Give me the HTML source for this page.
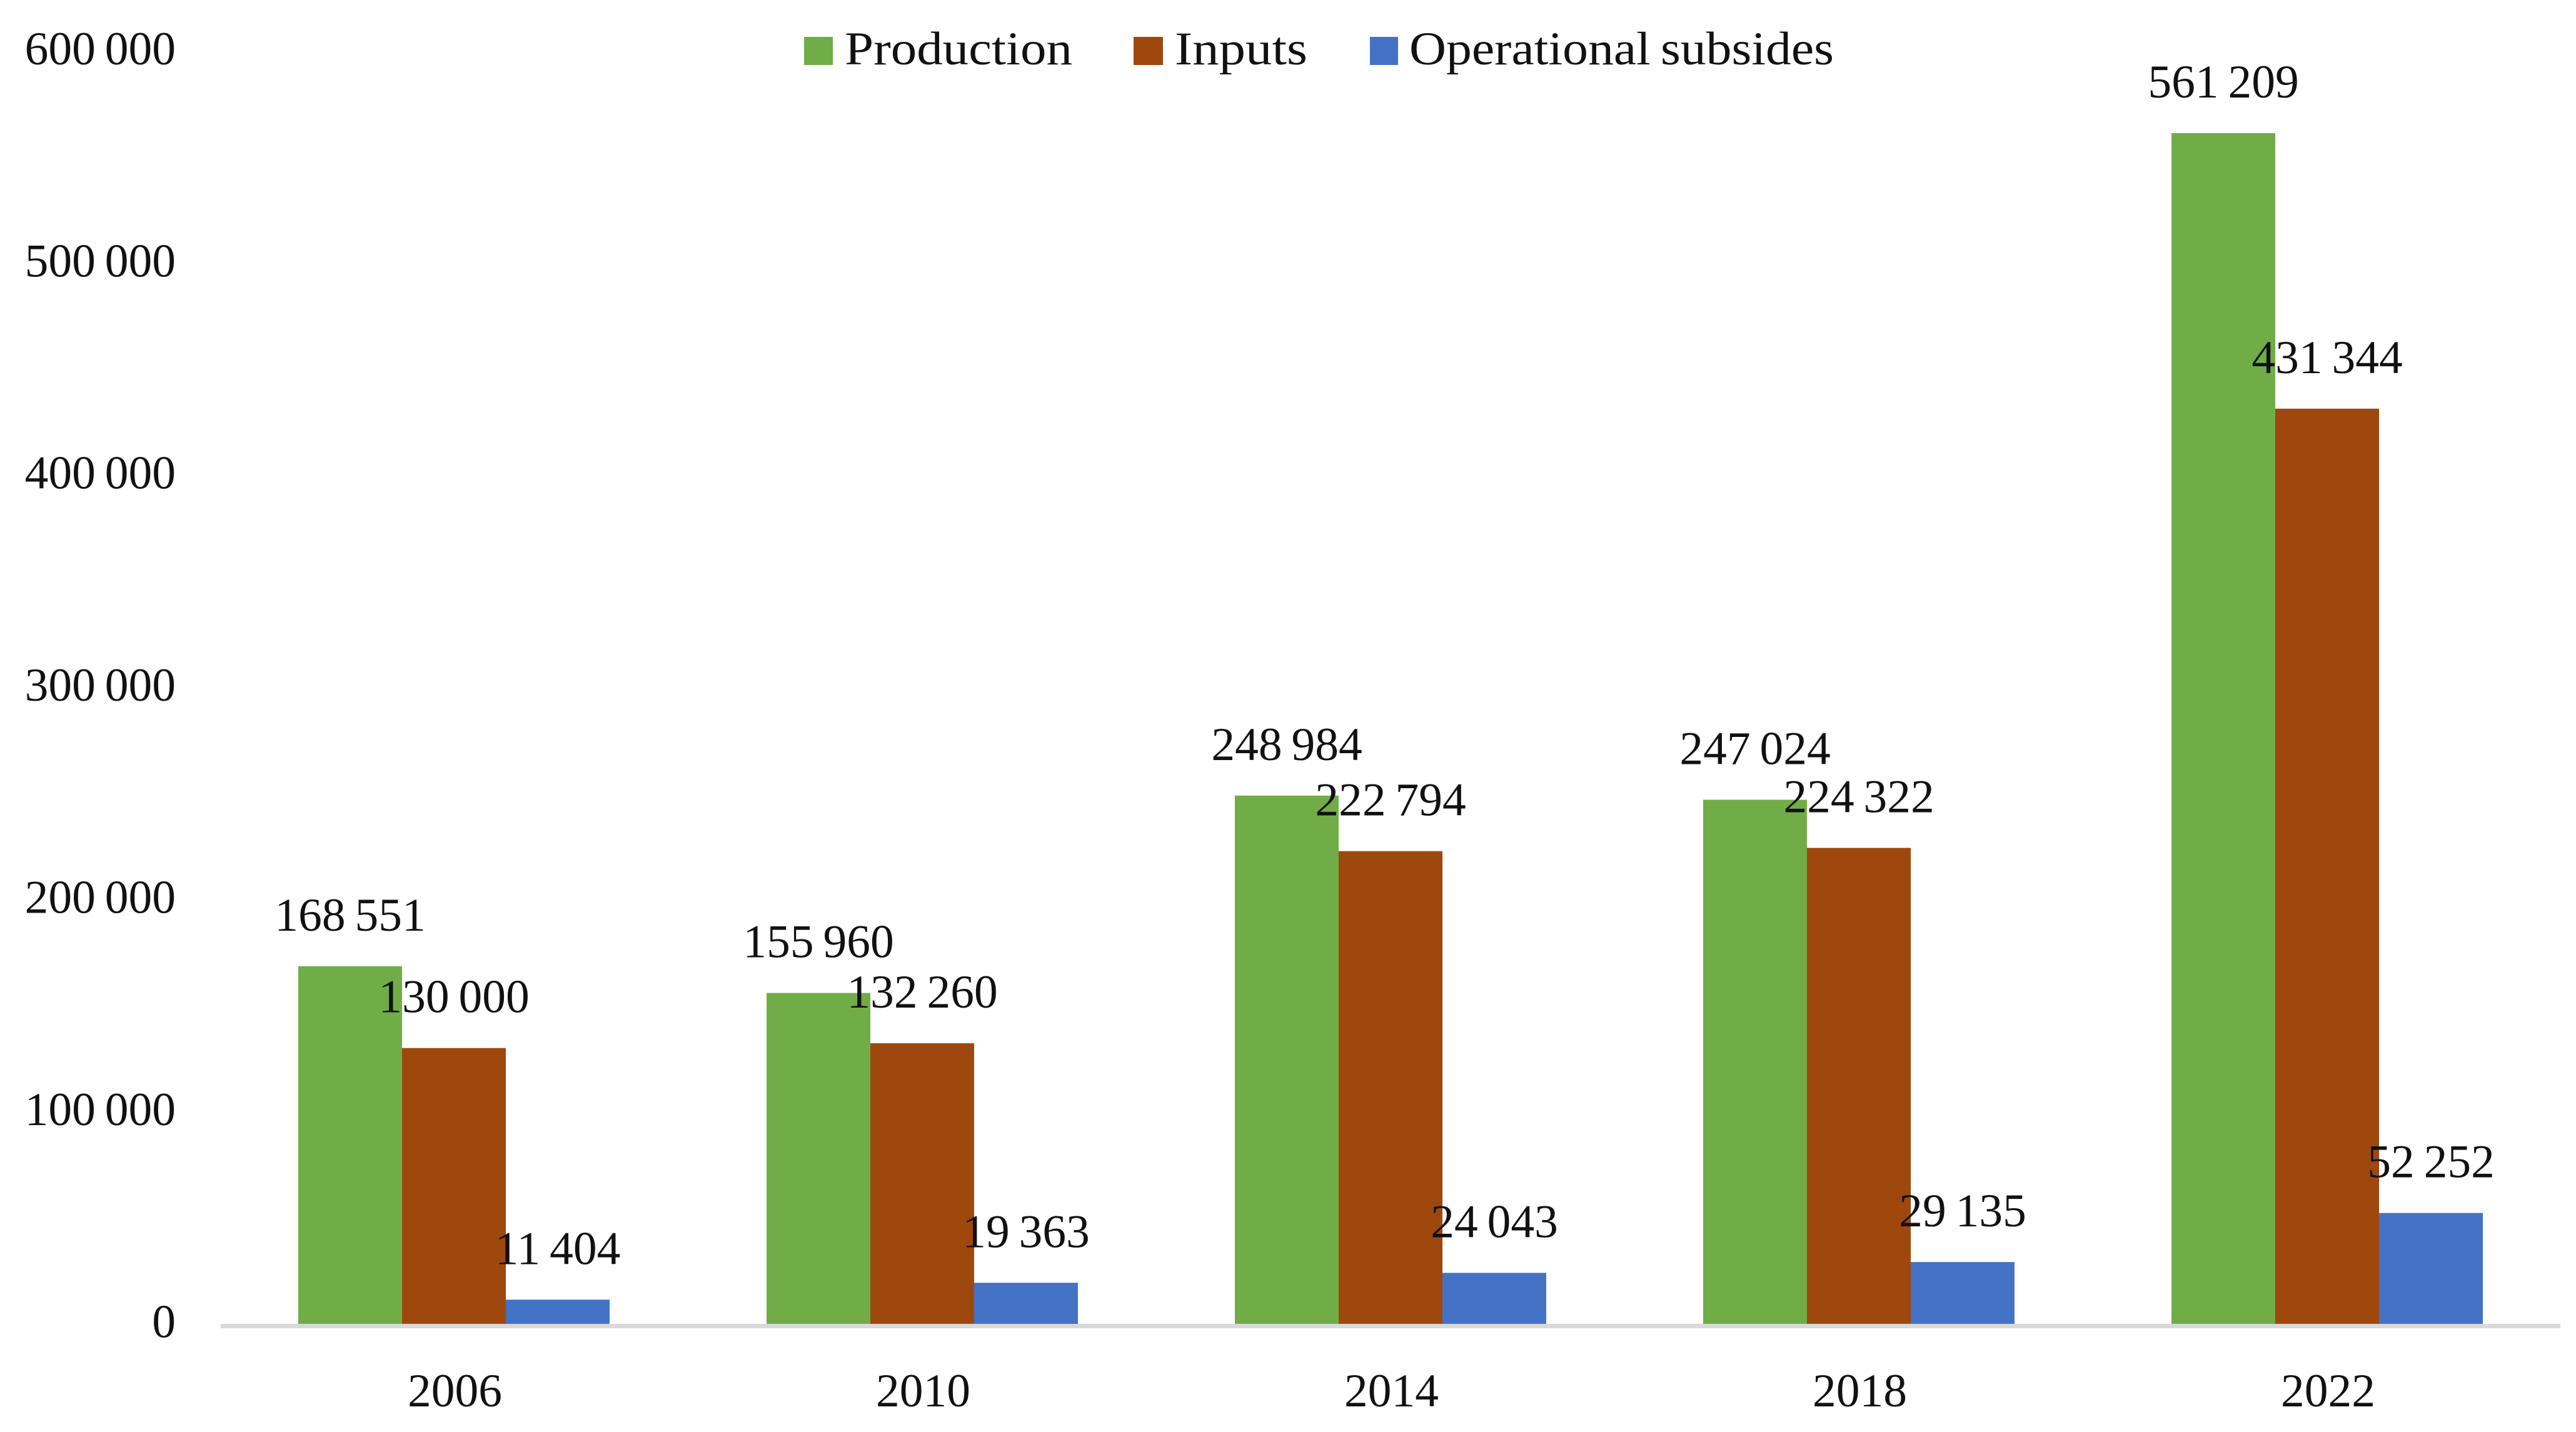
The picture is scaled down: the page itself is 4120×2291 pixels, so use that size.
<!DOCTYPE html>
<html lang="en">
<head>
<meta charset="utf-8">
<title>Production, inputs and operational subsidies</title>
<style>
html,body{margin:0;padding:0;background:#fff;}
svg{display:block;}
text{font-family:"Liberation Serif",serif;font-size:75.5px;word-spacing:-4px;fill:#111;}
</style>
</head>
<body>
<svg id="chart" xmlns="http://www.w3.org/2000/svg" width="4120" height="2291" viewBox="0 0 4120 2291">
  <rect x="0" y="0" width="4120" height="2291" fill="#ffffff"/>
  <g id="y-axis"></g>
  <g id="bars"></g>
  <rect x="353" y="2118" width="3742" height="7" fill="#d9d9d9"/>
  <g id="x-axis"></g>
  <g id="labels"></g>
  <g>
    <rect x="1286" y="59" width="46" height="45" fill="#70AD47"/>
    <text x="1351" y="103" textLength="364" lengthAdjust="spacingAndGlyphs">Production</text>
    <rect x="1813" y="59" width="47" height="45" fill="#9E480E"/>
    <text x="1879" y="103" textLength="212" lengthAdjust="spacingAndGlyphs">Inputs</text>
    <rect x="2191" y="59" width="45" height="45" fill="#4472C4"/>
    <text x="2254" y="103" textLength="679" lengthAdjust="spacingAndGlyphs">Operational subsides</text>
  </g>
</svg>
<script>
const categories = ["2006", "2010", "2014", "2018", "2022"];
const production = [168551, 155960, 248984, 247024, 561209];
const inputs = [130000, 132260, 222794, 224322, 431344];
const operationalSubsides = [11404, 19363, 24043, 29135, 52252];
const yTicks = [0, 100000, 200000, 300000, 400000, 500000, 600000];

const NS = "http://www.w3.org/2000/svg";
const firstCenter = 726, step = 749, baseY = 2118, pxPerUnit = 0.0033945, barW = 166;
const seriesList = [
  {key: "production", values: production, color: "#70AD47"},
  {key: "inputs", values: inputs, color: "#9E480E"},
  {key: "operational-subsides", values: operationalSubsides, color: "#4472C4"}
];

function yScale(v) { return baseY - v * pxPerUnit; }
function xCenter(i) { return firstCenter + i * step; }
function barX(i, s) { return xCenter(i) + (s - seriesList.length / 2) * barW; }
function fmt(v) { return String(v).replace(/\B(?=(\d{3})+$)/g, " "); }

const yGroup = document.getElementById("y-axis");
const xGroup = document.getElementById("x-axis");
const barGroup = document.getElementById("bars");
const labelGroup = document.getElementById("labels");

yTicks.forEach(function (t) {
  const el = document.createElementNS(NS, "text");
  
  
  el.setAttribute("x", 281);
  el.setAttribute("y", yScale(t) + 21.5);
  el.setAttribute("text-anchor", "end");
  el.textContent = fmt(t);
  yGroup.appendChild(el);
});

categories.forEach(function (c, i) {
  const el = document.createElementNS(NS, "text");
  
  
  el.setAttribute("x", xCenter(i) + 1.5);
  el.setAttribute("y", 2250);
  el.setAttribute("text-anchor", "middle");
  el.textContent = c;
  xGroup.appendChild(el);
});

seriesList.forEach(function (series, s) {
  series.values.forEach(function (v, i) {
    const bar = document.createElementNS(NS, "rect");
    
    
    bar.setAttribute("x", barX(i, s));
    bar.setAttribute("y", yScale(v));
    bar.setAttribute("width", barW);
    bar.setAttribute("height", baseY - yScale(v));
    bar.setAttribute("fill", series.color);
    barGroup.appendChild(bar);

    const label = document.createElementNS(NS, "text");
    
    
    label.setAttribute("x", barX(i, s) + barW / 2);
    label.setAttribute("y", yScale(v) - 57);
    label.setAttribute("text-anchor", "middle");
    label.textContent = fmt(v);
    labelGroup.appendChild(label);
  });
});
</script>
</body>
</html>
